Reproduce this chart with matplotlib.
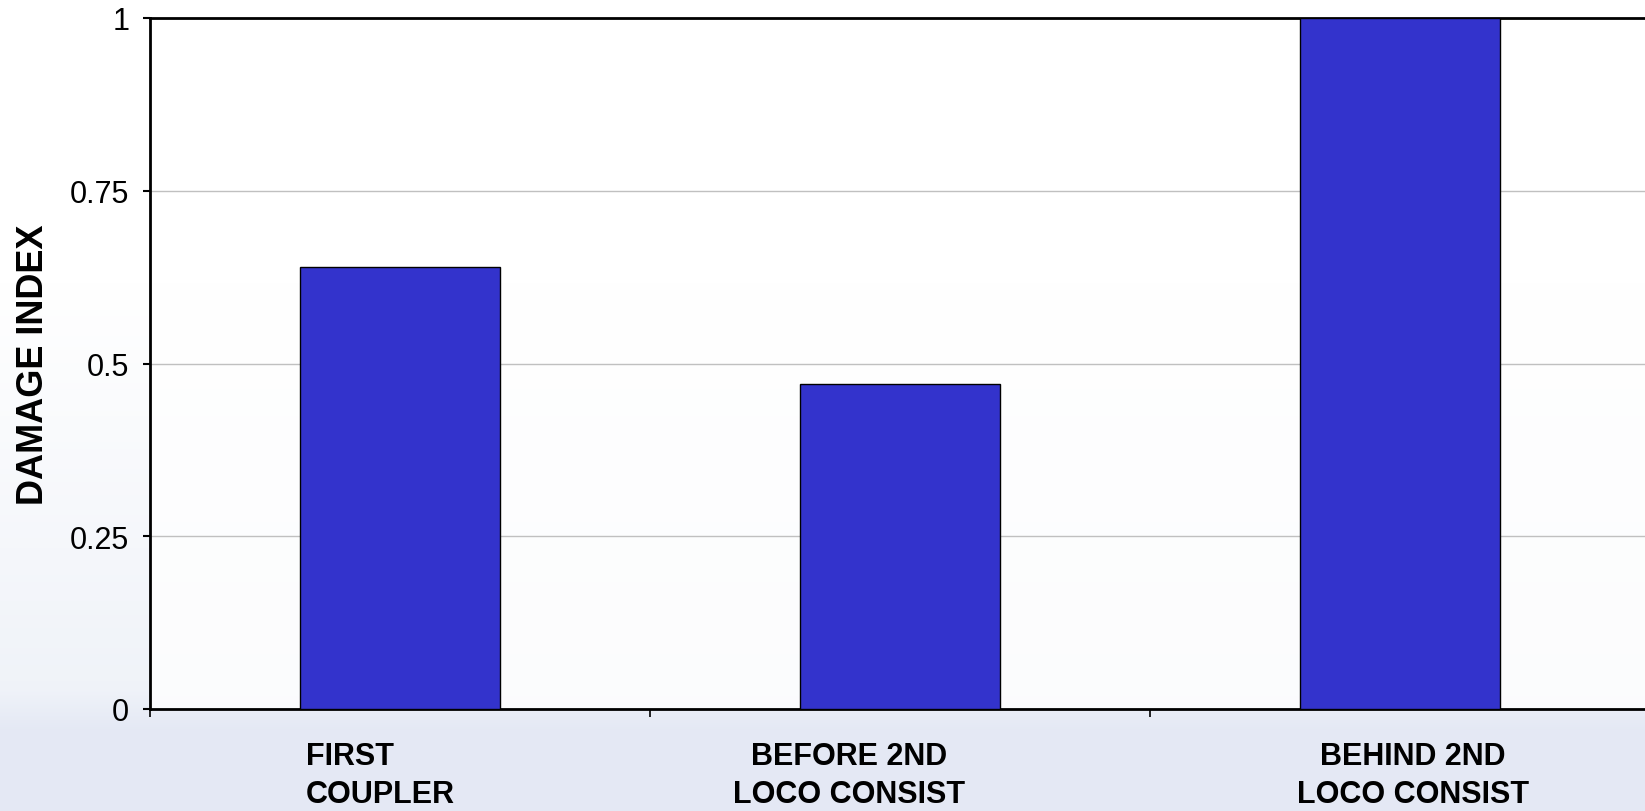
import numpy as np
import matplotlib
matplotlib.use("Agg")
import matplotlib.pyplot as plt
import matplotlib.transforms as mtransforms

plt.rcParams['font.family'] = ['Liberation Sans', 'DejaVu Sans']

# data
categories = ["FIRST\nCOUPLER", "BEFORE 2ND\nLOCO CONSIST", "BEHIND 2ND\nLOCO CONSIST"]
damage_index = [0.64, 0.47, 1.0]
y_ticks = [0, 0.25, 0.5, 0.75, 1]
y_tick_labels = ["0", "0.25", "0.5", "0.75", "1"]

fig = plt.figure(figsize=(16.45, 8.12), dpi=100)

# faint bluish backdrop like the slide template
bg = fig.add_axes([0, 0, 1, 1], zorder=-10)
rows = np.linspace(0, 1, 812)
top = np.array([1.0, 1.0, 1.0])
mid = np.array([0.94, 0.952, 0.975])
bot = np.array([0.895, 0.913, 0.96])
grad = np.zeros((812, 1, 3))
for i, r in enumerate(rows):
    if r < 0.35:
        c = top
    elif r < 0.85:
        t = (r - 0.35) / 0.5
        c = top + (mid - top) * t
    else:
        t = min((r - 0.85) / 0.05, 1)
        c = mid + (bot - mid) * t
    grad[i, 0] = c
bg.imshow(grad, aspect='auto', extent=[0, 1, 0, 1])
bg.axis('off')

ax = fig.add_axes([150 / 1645, 102 / 812, 1500 / 1645, 691 / 812])
ax.set_facecolor((1, 1, 1, 0.8))

x = np.arange(len(categories))
ax.bar(x, damage_index, width=0.4, color='#3333cc', edgecolor='black', linewidth=1, zorder=3)

ax.set_xlim(-0.5, 2.5)
ax.set_ylim(0, 1)
ax.set_yticks(y_ticks)
ax.set_yticklabels(y_tick_labels, fontsize=22)
ax.yaxis.grid(True, color='#c0c0c0', linewidth=1, zorder=0)
ax.tick_params(axis='y', direction='out', length=5, width=1.5, pad=10)

# category separators as ticks, labels drawn separately
ax.set_xticks([-0.5, 0.5, 1.5, 2.5])
ax.set_xticklabels([])
ax.tick_params(axis='x', direction='out', length=6, width=1.2)

for side in ['left', 'bottom', 'top']:
    ax.spines[side].set_linewidth(2)
    ax.spines[side].set_color('black')
ax.spines['right'].set_visible(False)

ax.set_ylabel("DAMAGE INDEX", fontsize=26, fontweight='bold')
ax.yaxis.set_label_coords(-(150 - 51) / 1500, 0.5)

# category labels (slightly offset as in the original)
trans = mtransforms.blended_transform_factory(ax.transData, ax.transAxes)
label_ha = ['left', 'center', 'center']
label_dx = [-94, -51, 13]
for i, lab in enumerate(categories):
    for j, line in enumerate(lab.split("\n")):
        ax.annotate(line, xy=(x[i], 0), xycoords=trans,
                    xytext=(label_dx[i], -55 - 38 * j), textcoords='offset pixels',
                    ha=label_ha[i], va='baseline', fontsize=22, fontweight='bold',
                    annotation_clip=False)

fig.savefig("out.png", dpi=100)
